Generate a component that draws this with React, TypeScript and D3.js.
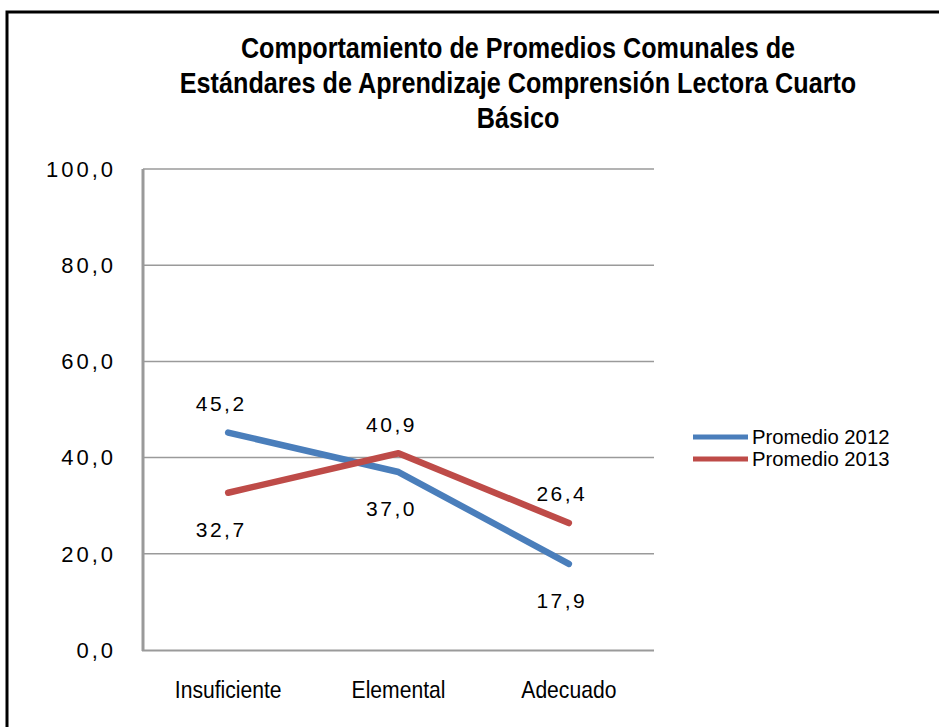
import React from "react";
import * as d3 from "d3";

const categories = ["Insuficiente", "Elemental", "Adecuado"];
const promedio2012 = [45.2, 37.0, 17.9];
const promedio2013 = [32.7, 40.9, 26.4];
const yTicks = [0, 20, 40, 60, 80, 100];
const titleLines = [
  "Comportamiento de Promedios Comunales de",
  "Estándares de Aprendizaje Comprensión Lectora Cuarto",
  "Básico",
];
const seriesNames = ["Promedio 2012", "Promedio 2013"];
const seriesColors = ["#4a7ebb", "#be4b48"];
const labelSides = [
  ["above", "below", "below"],
  ["below", "above", "above"],
];

const W = 939;
const H = 727;
const font = "'Liberation Sans', Arial, sans-serif";

const fmt = (v: number) => v.toFixed(1).replace(".", ",");

function NarrowText({
  x,
  y,
  size,
  sx,
  anchor = "start",
  bold = false,
  children,
}: {
  x: number;
  y: number;
  size: number;
  sx: number;
  anchor?: string;
  bold?: boolean;
  children: React.ReactNode;
}) {
  return (
    <text
      transform={`translate(${x},${y}) scale(${sx},1)`}
      textAnchor={anchor as any}
      fontFamily={font}
      fontWeight={bold ? "bold" : "normal"}
      fontSize={size}
      fill="#000"
    >
      {children}
    </text>
  );
}

export default function App() {
  const x = d3.scalePoint<string>().domain(categories).range([143, 654]).padding(0.5);
  const y = d3.scaleLinear().domain([0, 100]).range([650, 169]);
  const line = d3
    .line<number>()
    .x((_, i) => x(categories[i]) as number)
    .y((d) => y(d));
  const series = [promedio2012, promedio2013];

  return (
    <svg width={W} height={H} style={{ position: "absolute", left: 0, top: 0, background: "#fff" }}>
      <rect x={0} y={0} width={W} height={H} fill="#fff" />
      <path d={`M7,${H} L7,12 L${W},12`} fill="none" stroke="#000" strokeWidth={3} />
      {titleLines.map((t, i) => (
        <NarrowText key={i} x={518} y={58 + i * 35} size={30} sx={0.84} anchor="middle" bold>
          {t}
        </NarrowText>
      ))}
      {yTicks.map((t) => (
        <g key={t}>
          {t > 0 && (
            <line x1={143} x2={654} y1={y(t)} y2={y(t)} stroke="#9a9a9a" strokeWidth={1.5} />
          )}
          <text
            x={116}
            y={y(t)}
            dy="0.35em"
            textAnchor="end"
            fontFamily={font}
            fontSize={22}
            letterSpacing={3}
            fill="#000"
          >
            {fmt(t)}
          </text>
        </g>
      ))}
      <line x1={143} x2={143} y1={169} y2={651} stroke="#9a9a9a" strokeWidth={3} />
      <line x1={142} x2={654} y1={650.5} y2={650.5} stroke="#9a9a9a" strokeWidth={2} />
      {categories.map((c) => (
        <NarrowText key={c} x={x(c) as number} y={698} size={24} sx={0.88} anchor="middle">
          {c}
        </NarrowText>
      ))}
      {series.map((s, si) => (
        <path
          key={si}
          d={line(s) as string}
          fill="none"
          stroke={seriesColors[si]}
          strokeWidth={6.5}
          strokeLinecap="round"
          strokeLinejoin="round"
        />
      ))}
      {series.map((s, si) =>
        s.map((v, i) => {
          const above = labelSides[si][i] === "above";
          return (
            <text
              key={`${si}-${i}`}
              x={(x(categories[i]) as number) - 7}
              y={y(v) + (above ? -29 : 37)}
              dy="0.35em"
              textAnchor="middle"
              fontFamily={font}
              fontSize={21}
              letterSpacing={2.5}
              fill="#000"
            >
              {fmt(v)}
            </text>
          );
        })
      )}
      {seriesNames.map((n, i) => (
        <g key={n}>
          <line
            x1={693}
            x2={748}
            y1={437 + i * 22}
            y2={437 + i * 22}
            stroke={seriesColors[i]}
            strokeWidth={5}
          />
          <NarrowText x={752} y={444 + i * 22} size={19.5} sx={1.04}>
            {n}
          </NarrowText>
        </g>
      ))}
    </svg>
  );
}
